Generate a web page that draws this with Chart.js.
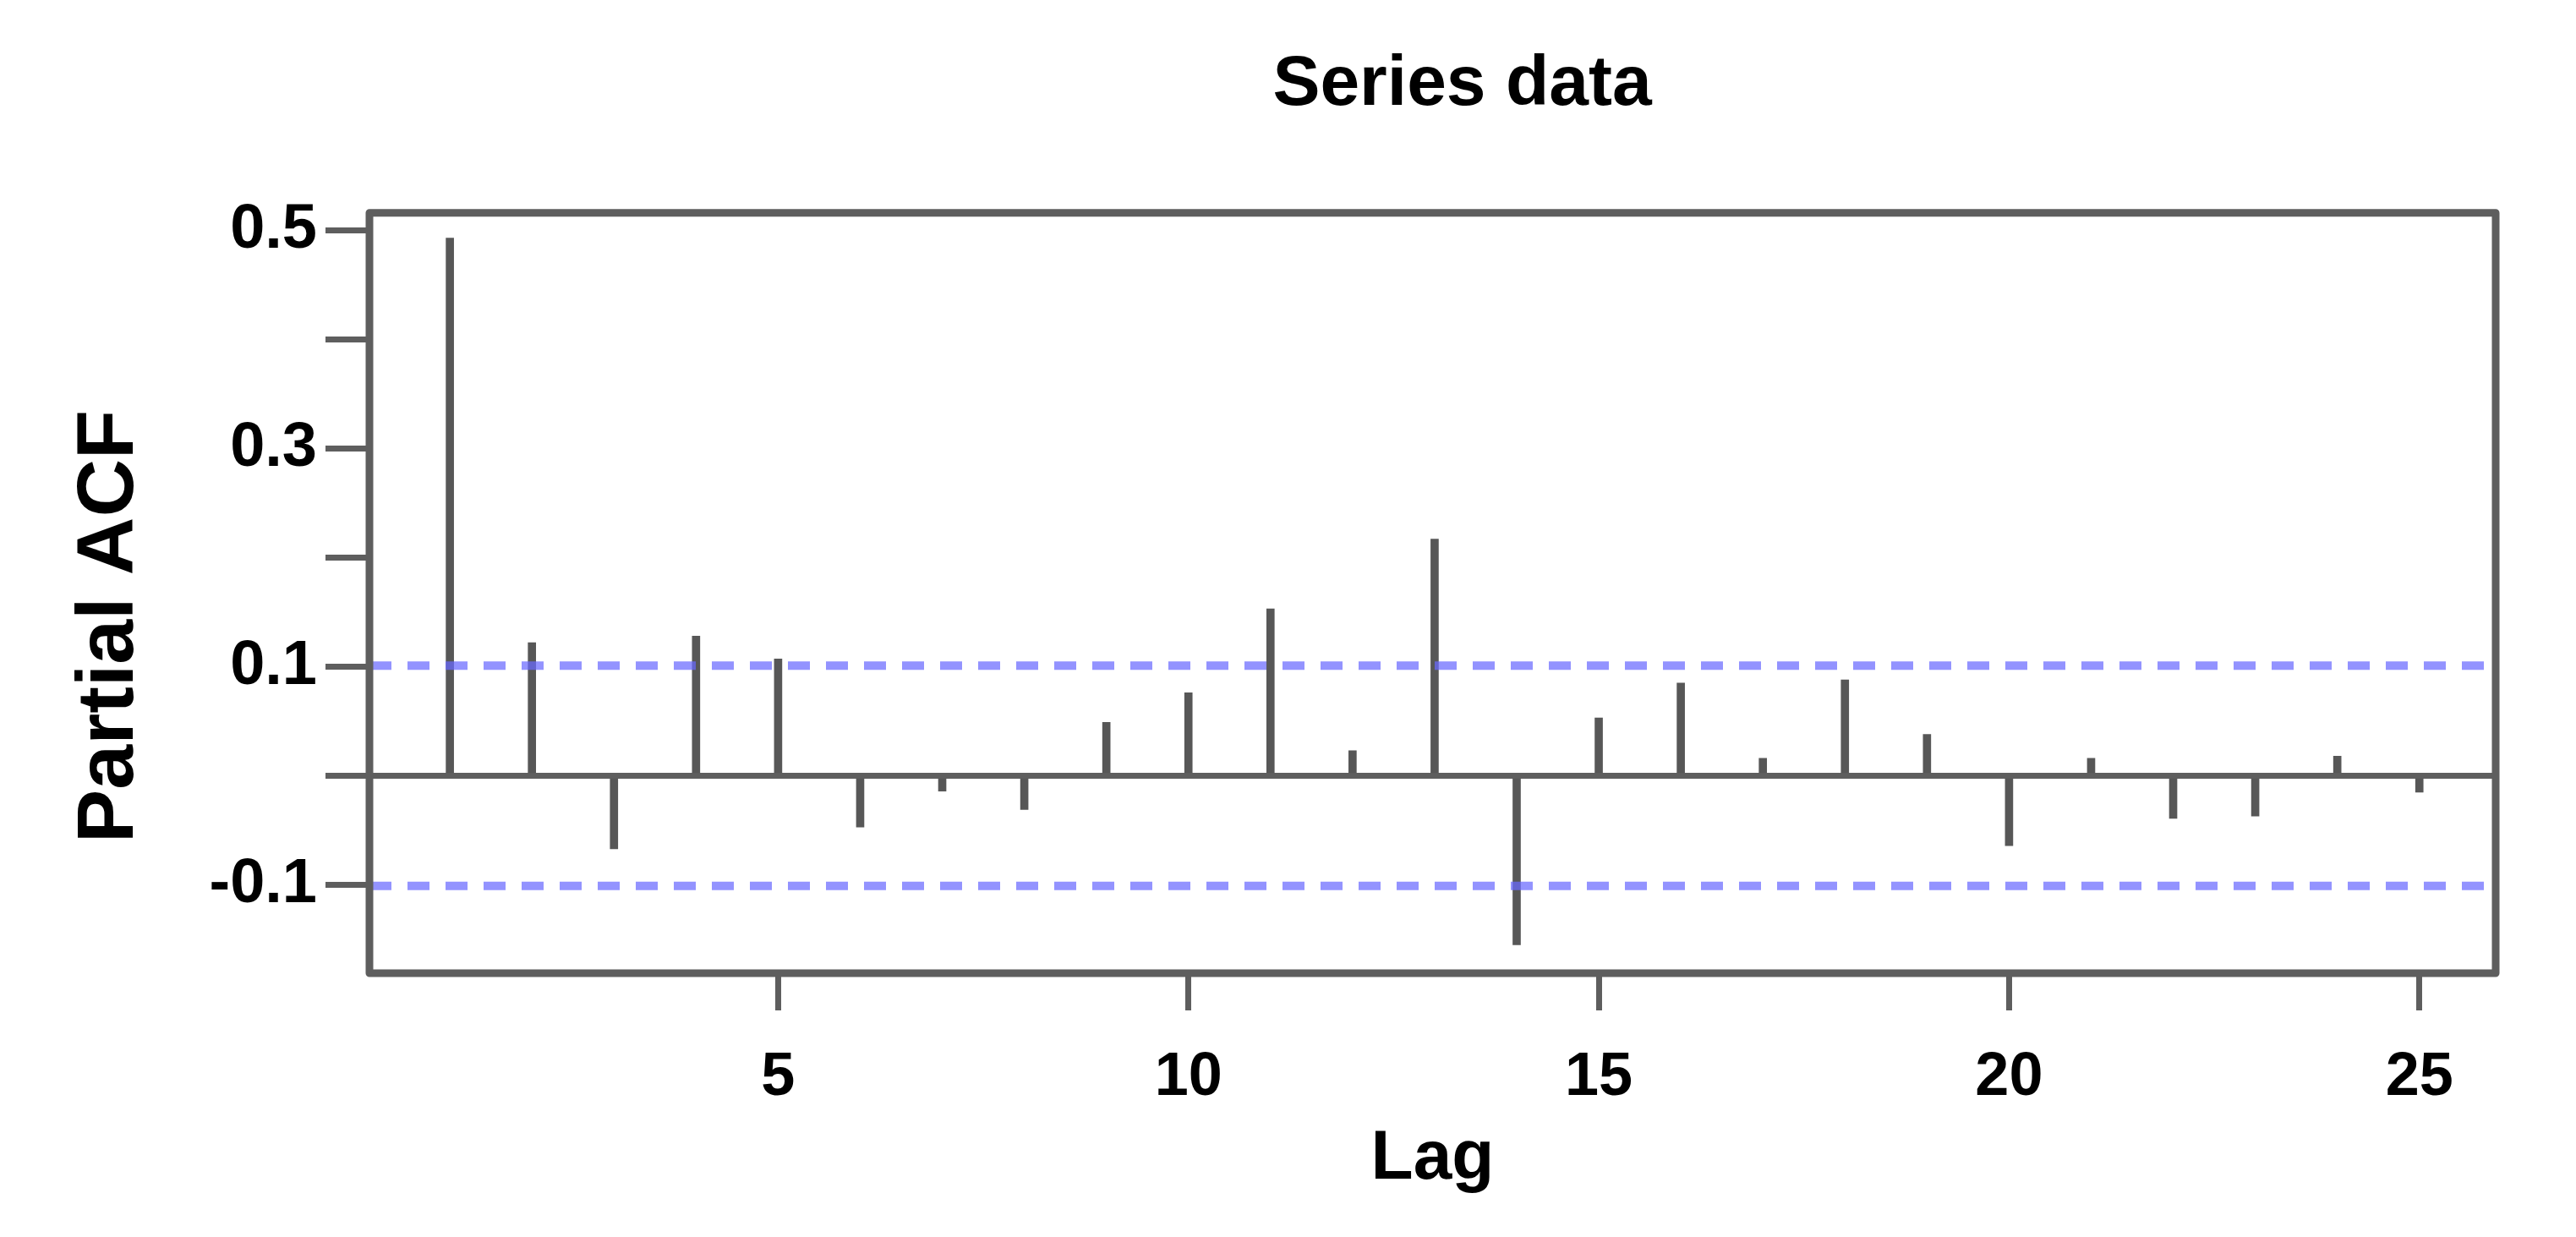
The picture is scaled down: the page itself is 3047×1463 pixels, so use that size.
<!DOCTYPE html>
<html>
<head>
<meta charset="utf-8">
<title>Series data - Partial ACF</title>
<script src="https://cdn.jsdelivr.net/npm/chart.js@4.4.1/dist/chart.umd.min.js"></script>
<style>
  html, body { margin: 0; padding: 0; background: #fff; }
</style>
</head>
<body>
<canvas id="pacfChart" width="3047" height="1463"></canvas>
<script>
// values
const lags = [1, 2, 3, 4, 5, 6, 7, 8, 9, 10, 11, 12, 13, 14, 15, 16, 17, 18, 19, 20, 21, 22, 23, 24, 25];
const pacfValues = [0.493, 0.122, -0.067, 0.128, 0.107, -0.047, -0.014, -0.031, 0.049, 0.076,
                    0.153, 0.023, 0.217, -0.155, 0.053, 0.085, 0.016, 0.088, 0.038, -0.064,
                    0.016, -0.039, -0.037, 0.018, -0.015];
const confLimit = 0.101;
const xRange = [0.02, 25.93];
const yRange = [-0.181, 0.516];
const xTicks = [5, 10, 15, 20, 25];
const yTicks = [-0.1, 0, 0.1, 0.2, 0.3, 0.4, 0.5];
const yTickLabels = ['-0.1', '', '0.1', '', '0.3', '', '0.5'];

const axisGray = '#5e5e5e';
const barGray = '#575757';
const limitBlue = 'rgba(105, 105, 255, 0.72)';

Chart.defaults.font.family = '"Liberation Sans", Arial, sans-serif';
Chart.defaults.font.weight = 'bold';
Chart.defaults.color = '#000';

// box round the plot region
const frameBox = {
    id: 'frameBox',
    afterDatasetsDraw(chart) {
        const { ctx, chartArea: a } = chart;
        ctx.save();
        ctx.strokeStyle = axisGray;
        ctx.lineWidth = 9;
        ctx.lineJoin = 'round';
        ctx.strokeRect(a.left, a.top, a.right - a.left, a.bottom - a.top);
        ctx.restore();
    }
};

const limitLine = (y) => ({
    type: 'line',
    data: [{ x: xRange[0], y: y }, { x: xRange[1], y: y }],
    borderColor: limitBlue,
    borderWidth: 10,
    borderDash: [26, 19],
    pointRadius: 0,
    order: 0
});

new Chart(document.getElementById('pacfChart'), {
    data: {
        datasets: [
            limitLine(confLimit),
            limitLine(-confLimit),
            {
                type: 'bar',
                data: lags.map((lag, i) => ({ x: lag, y: pacfValues[i] })),
                backgroundColor: barGray,
                barThickness: 9,
                order: 1
            }
        ]
    },
    options: {
        responsive: false,
        animation: false,
        layout: {
            padding: { left: 0, right: 95, top: 0, bottom: 0 }
        },
        plugins: {
            legend: { display: false },
            tooltip: { enabled: false },
            title: {
                display: true,
                text: '   Series data',
                fullSize: false,
                font: { size: 84, weight: 'bold' },
                color: '#000',
                padding: { top: 50, bottom: 101 }
            }
        },
        scales: {
            x: {
                type: 'linear',
                position: 'bottom',
                min: xRange[0],
                max: xRange[1],
                offset: false,
                afterBuildTicks: scale => { scale.ticks = xTicks.map(v => ({ value: v })); },
                afterFit: scale => { scale.height = 312; },
                border: { display: false },
                grid: {
                    offset: false,
                    drawOnChartArea: false,
                    drawTicks: true,
                    tickLength: 44,
                    tickColor: axisGray,
                    lineWidth: 7
                },
                ticks: {
                    font: { size: 72, weight: 'bold' },
                    color: '#000',
                    padding: 37,
                    maxRotation: 0,
                    callback: value => String(value)
                },
                title: {
                    display: true,
                    text: 'Lag',
                    font: { size: 82, weight: 'bold' },
                    color: '#000',
                    padding: { top: 0, bottom: 42 }
                }
            },
            y: {
                type: 'linear',
                min: yRange[0],
                max: yRange[1],
                afterBuildTicks: scale => { scale.ticks = yTicks.map(v => ({ value: v })); },
                afterFit: scale => { scale.width = 437; },
                border: { display: false },
                grid: {
                    drawOnChartArea: true,
                    color: ctx => (ctx.tick && ctx.tick.value === 0 ? axisGray : 'rgba(0,0,0,0)'),
                    tickColor: axisGray,
                    drawTicks: true,
                    tickLength: 52,
                    lineWidth: 7
                },
                ticks: {
                    font: { size: 74, weight: 'bold' },
                    color: '#000',
                    padding: 10,
                    callback: (value, index) => yTickLabels[index]
                },
                title: {
                    display: true,
                    text: 'Partial ACF   ',
                    font: { size: 95, weight: 'bold' },
                    color: '#000',
                    padding: { top: 74, bottom: 0 }
                }
            }
        }
    },
    plugins: [frameBox]
});
</script>
</body>
</html>
